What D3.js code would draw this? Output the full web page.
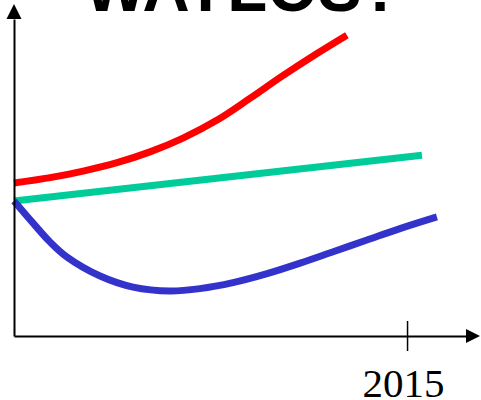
<!DOCTYPE html>
<html>
<head>
<meta charset="utf-8">
<script src="https://cdn.jsdelivr.net/npm/d3@7"></script>
<style>
  html, body { margin: 0; padding: 0; background: #fff; }
  svg { display: block; }
</style>
</head>
<body>
<svg id="chart" width="481" height="400"></svg>
<script>
// Headline and axis label
const titleText = "WAYLOS?";
const tickYears = [{ at: 100, label: "2015" }];

// Scenario curves: x in time units (origin = 0, 2015 = 100), y in index units
const redX   = [0, 9.2, 17.6, 26.2, 34.6, 43, 51.7, 60, 68.4, 77.1, 84.7];
const redY   = [51, 52.8, 55, 57.8, 61.4, 66, 72, 79.2, 86.8, 94.2, 100.3];

const greenX = [0, 103.8];
const greenY = [45, 60.3];

const blueX  = [0, 4.8, 9.2, 13.5, 21.9, 30.3, 39.7, 47.3, 55.7, 64.4, 72.8, 81.2, 89.8, 98.2, 107.6];
const blueY  = [45, 37.7, 31.3, 26.3, 20, 16.3, 15, 15.8, 17.8, 20.8, 24.3, 28.1, 32, 35.8, 39.7];

const series = [
  { name: "high", xs: redX,   ys: redY,   color: "#ff0000" },
  { name: "flat", xs: greenX, ys: greenY, color: "#00cc99" },
  { name: "low",  xs: blueX,  ys: blueY,  color: "#3333cc" }
];

const svg = d3.select("#chart");

const x = d3.scaleLinear().domain([0, 115]).range([14, 466]);
const y = d3.scaleLinear().domain([0, 105.7]).range([336, 19]);

// Headline, only its lower part sits inside the frame
svg.append("text")
  .attr("x", 243)
  .attr("y", 11)
  .attr("text-anchor", "middle")
  .attr("font-family", "'Liberation Sans', Arial, sans-serif")
  .attr("font-weight", "bold")
  .attr("font-size", 68)
  .attr("textLength", 317)
  .attr("lengthAdjust", "spacingAndGlyphs")
  .attr("fill", "#000")
  .text(titleText);

// Curves
const line = d3.line()
  .x(d => x(d[0]))
  .y(d => y(d[1]))
  .curve(d3.curveCatmullRom.alpha(0.5));

svg.append("g")
  .selectAll("path")
  .data(series)
  .join("path")
  .attr("d", s => line(s.xs.map((v, i) => [v, s.ys[i]])))
  .attr("fill", "none")
  .attr("stroke", s => s.color)
  .attr("stroke-width", 7)
  .attr("stroke-linecap", "butt");

// X axis
const xAxis = d3.axisBottom(x)
  .tickValues(tickYears.map(t => t.at))
  .tickFormat(v => tickYears.find(t => t.at === v).label)
  .tickSizeInner(15)
  .tickSizeOuter(0)
  .tickPadding(17);

const gx = svg.append("g")
  .attr("transform", `translate(0,${y(0)})`)
  .call(xAxis);

gx.select(".domain").attr("stroke", "#000").attr("stroke-width", 2);
gx.selectAll(".tick line")
  .attr("y1", -15)
  .attr("y2", 15)
  .attr("stroke", "#000")
  .attr("stroke-width", 1.5);
gx.selectAll(".tick text")
  .attr("font-family", "'Liberation Serif', 'Times New Roman', serif")
  .attr("font-size", 41)
  .attr("fill", "#000")
  .attr("dx", -4);

// Y axis
const yAxis = d3.axisLeft(y).tickValues([]).tickSizeOuter(0);
const gy = svg.append("g")
  .attr("transform", `translate(${x(0)},0)`)
  .call(yAxis);
gy.select(".domain").attr("stroke", "#000").attr("stroke-width", 2);

// Arrowheads
const x0 = x(0), y0 = y(0);
const xEnd = x.range()[1], yEnd = y.range()[1];
svg.append("path")
  .attr("d", `M${xEnd},${y0 - 7} L${xEnd + 14},${y0} L${xEnd},${y0 + 7} Z`)
  .attr("fill", "#000");
svg.append("path")
  .attr("d", `M${x0 - 7.5},${yEnd} L${x0},${yEnd - 15} L${x0 + 7.5},${yEnd} Z`)
  .attr("fill", "#000");
</script>
</body>
</html>
